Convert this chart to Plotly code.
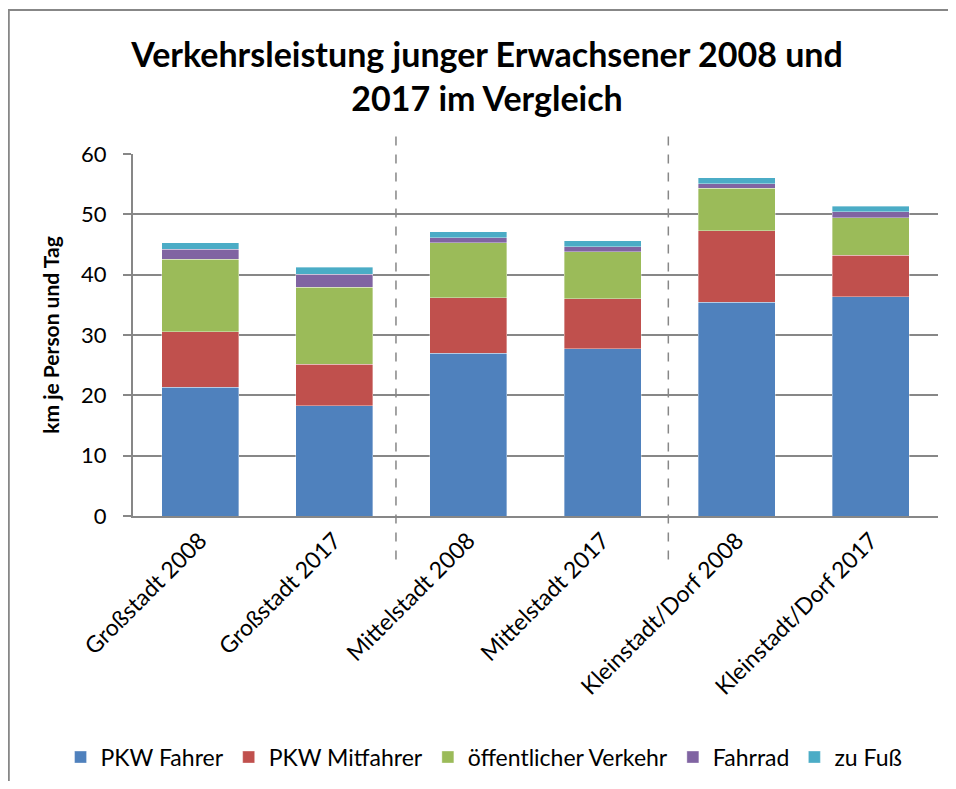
import plotly.graph_objects as go

categories = ["Großstadt 2008", "Großstadt 2017", "Mittelstadt 2008", "Mittelstadt 2017",
              "Kleinstadt/Dorf 2008", "Kleinstadt/Dorf 2017"]
pkw_fahrer = [21.3, 18.3, 27.0, 27.7, 35.4, 36.3]
pkw_mitfahrer = [9.25, 6.85, 9.2, 8.3, 11.9, 6.9]
oev = [12.0, 12.8, 9.1, 7.8, 7.0, 6.25]
fahrrad = [1.65, 2.1, 0.85, 0.85, 0.8, 1.0]
zu_fuss = [1.1, 1.15, 0.95, 0.95, 1.0, 0.9]

series_names = ["PKW Fahrer", "PKW Mitfahrer", "öffentlicher Verkehr", "Fahrrad", "zu Fuß"]
series_values = [pkw_fahrer, pkw_mitfahrer, oev, fahrrad, zu_fuss]
colors = ["#4F81BD", "#C0504D", "#9BBB59", "#8064A2", "#4BACC6"]
y_ticks = [0, 10, 20, 30, 40, 50, 60]
separators = [1.46, 3.49]

FONT = "Lato"
GREY = "#878787"

fig = go.Figure()
for name, vals, col in zip(series_names, series_values, colors):
    fig.add_trace(go.Bar(
        x=categories, y=vals, name=name,
        marker=dict(color=col, line=dict(color="rgba(255,255,255,0.6)", width=0.6)),
    ))

shapes = []
for sx in separators:
    shapes.append(dict(type="line", xref="x", yref="paper", x0=sx, x1=sx,
                       y0=-0.12, y1=1.069,
                       line=dict(color=GREY, width=1.5, dash="dash")))
# outer chart border (left and top edges)
shapes.append(dict(type="line", xref="paper", yref="paper", x0=-0.1543, x1=-0.1543,
                   y0=-0.76, y1=1.398, line=dict(color=GREY, width=2)))
shapes.append(dict(type="line", xref="paper", yref="paper", x0=-0.1553, x1=1.03,
                   y0=1.398, y1=1.398, line=dict(color=GREY, width=2)))

fig.update_layout(
    barmode="stack",
    bargap=0.426,
    width=940, height=773,
    margin=dict(l=125, r=10, t=146, b=265, autoexpand=False),
    paper_bgcolor="white", plot_bgcolor="white",
    font=dict(family=FONT, color="black"),
    title=dict(text="<b>Verkehrsleistung junger Erwachsener 2008 und<br>2017 im Vergleich</b>",
               x=0.5096, xanchor="center", y=0.924, yanchor="middle",
               font=dict(family=FONT, size=34, color="black")),
    legend=dict(orientation="h", x=-0.09, xanchor="left", y=-0.666, yanchor="middle",
                font=dict(family=FONT, size=23, color="black"), traceorder="normal",
                itemwidth=30),
    shapes=shapes,
    showlegend=True,
)
fig.update_xaxes(
    showline=True, linecolor=GREY, linewidth=2, tickangle=-45,
    tickfont=dict(family=FONT, size=23, color="black"), ticks="",
    ticklabelstandoff=0,
)
fig.update_yaxes(
    range=[0, 60], tickvals=y_ticks, showgrid=True, gridcolor=GREY, gridwidth=1.5,
    showline=True, linecolor=GREY, linewidth=2, ticks="outside", ticklen=8, tickcolor=GREY,
    tickwidth=1.5, zeroline=False,
    tickfont=dict(family=FONT, size=22, color="black"), ticklabelstandoff=12,
    title=dict(text="<b>km je Person und Tag</b>", font=dict(family=FONT, size=21, color="black"),
               standoff=16),
)

fig.write_html("out.html")
